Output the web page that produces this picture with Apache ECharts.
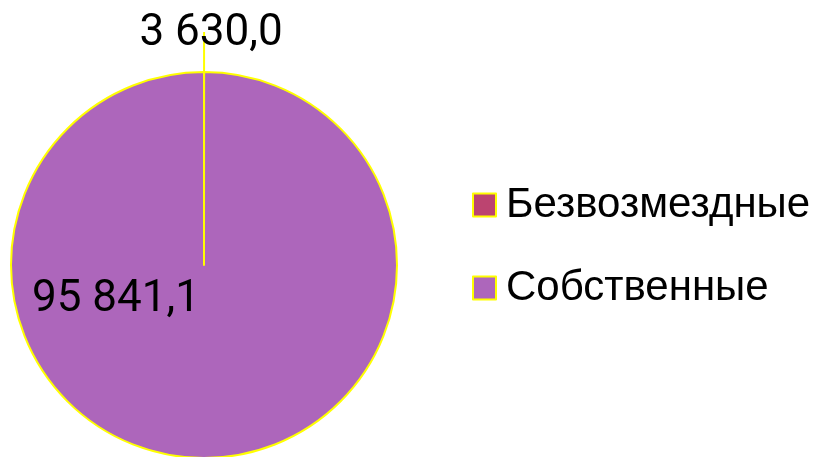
<!DOCTYPE html>
<html>
<head>
<meta charset="utf-8" />
<script src="https://cdn.jsdelivr.net/npm/echarts@6/dist/echarts.min.js"></script>
<title>Pie</title>
<style>
html, body { margin: 0; padding: 0; background: #fff; }
#main { width: 817px; height: 457px; }
</style>
</head>
<body>
<div id="main"></div>
<script>
// categories and numbers as printed on the chart
var categories = ['Безвозмездные', 'Собственные'];
var labelValues = [3630.0, 95841.1];
// slice sizes as drawn: the first slice shows almost no width
var sliceValues = [10, 95841.1];
var colors = ['#BC4470', '#AD66BB'];

function fmt(v) {
    var s = v.toFixed(1).split('.');
    var intPart = s[0].replace(/\B(?=(\d{3})+(?!\d))/g, ' ');
    return intPart + ',' + s[1];
}

var data = [];
for (var i = 0; i < categories.length; i++) {
    data.push({ name: categories[i], value: sliceValues[i], itemStyle: { color: colors[i] } });
}

var myChart = echarts.init(document.getElementById('main'));
var option = {
    backgroundColor: '#fff',
    animation: false,
    legend: {
        orient: 'vertical',
        left: 472,
        top: 184,
        padding: 0,
        itemWidth: 23,
        itemHeight: 23,
        itemGap: 41,
        icon: 'rect',
        data: categories,
        itemStyle: { borderColor: '#FFFF00', borderWidth: 2 },
        textStyle: { fontFamily: 'Arial, "Liberation Sans", sans-serif', fontSize: 42, color: '#000', padding: [0, 0, 0, 5] }
    },
    series: [{
        type: 'pie',
        center: [204, 265],
        radius: 193,
        startAngle: 90,
        clockwise: true,
        avoidLabelOverlap: false,
        itemStyle: { borderColor: '#FFFF00', borderWidth: 2 },
        label: {
            fontFamily: 'Roboto',
            fontSize: 44,
            color: '#000',
            formatter: function (p) { return fmt(labelValues[p.dataIndex]); }
        },
        labelLine: { show: true, length: 40, length2: 0, lineStyle: { color: '#FFFF00', width: 2 } },
        labelLayout: function (p) {
            if (p.dataIndex === 1) {
                return { dx: -88, dy: -65 };
            }
            return { align: 'center', verticalAlign: 'middle', dx: 2, dy: 2 };
        },
        data: [
            data[0],
            { name: data[1].name, value: data[1].value, itemStyle: data[1].itemStyle, label: { position: 'inside' }, labelLine: { show: false } }
        ]
    }]
};
myChart.setOption(option);
</script>
</body>
</html>
